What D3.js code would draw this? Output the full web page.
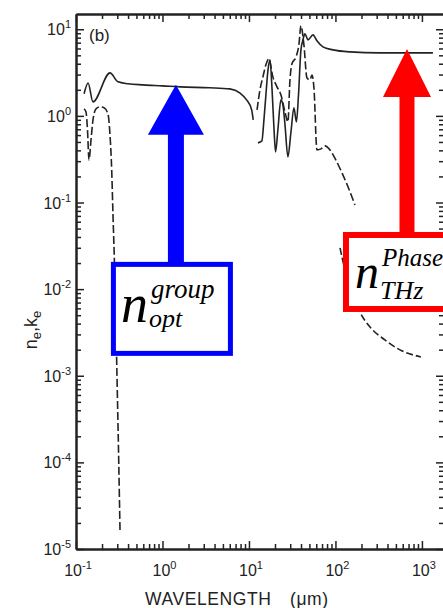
<!DOCTYPE html>
<html>
<head>
<meta charset="utf-8">
<script src="https://cdn.jsdelivr.net/npm/d3@7"></script>
<style>
  body { margin: 0; background: #fff; }
  svg { display: block; }
</style>
</head>
<body>
<svg id="chart" width="443" height="608"></svg>
<script>
// Extraordinary refractive index n_e (solid), UV through mid-IR
const nOptWavelength = [0.124, 0.138, 0.157, 0.247, 0.306, 0.40, 0.60, 1.0, 1.6, 3.5, 6.0, 7.9, 9.4, 10.75, 11.2];
const nOptValue      = [1.80, 2.40, 1.45, 3.14, 2.47, 2.35, 2.28, 2.22, 2.16, 2.11, 2.05, 1.83, 1.53, 1.17, 0.90];

// n_e across the phonon region and into the THz range
const nIrWavelength = [12.7, 14.1, 14.9, 15.7, 16.6, 17.5, 18.5, 19.5, 20.3, 21.6, 23.4, 24.7, 26.1, 28.2, 30.6, 33.1, 35.4, 37.4, 39.9, 42.1, 44.4, 48.1, 55.0, 61.1, 71.7, 93.6, 147, 327, 1340];
const nIrValue      = [0.488, 0.514, 0.899, 1.75, 3.40, 4.43, 2.00, 0.689, 0.384, 0.689, 1.53, 1.34, 0.787, 0.336, 0.653, 1.24, 0.852, 1.75, 5.78, 7.54, 8.85, 7.54, 8.61, 7.35, 6.26, 5.78, 5.48, 5.34, 5.34];

// Extinction coefficient k_e (dashed), UV absorption edge
const kUvWavelength = [0.124, 0.1305, 0.1358, 0.1413, 0.1491, 0.1572, 0.1703, 0.1894, 0.2107, 0.2344, 0.2472, 0.2587, 0.2677, 0.2787, 0.2901, 0.3018, 0.3126, 0.3227];
const kUvValue      = [1.205, 1.11, 0.689, 0.310, 0.528, 0.899, 1.205, 1.27, 1.24, 1.05, 0.603, 0.238, 0.0719, 0.01903, 0.00338, 5.26e-4, 9.33e-5, 1.66e-5];

// k_e in the phonon region
const kIrWavelength = [12.4, 13.4, 14.5, 15.7, 17.0, 18.9, 21.1, 23.4, 26.1, 28.2, 29.8, 31.4, 35.0, 37.8, 39.9, 43.2, 46.8, 50.7, 53.5, 56.4, 61.1, 68.0, 75.6, 86.4, 101, 119, 140, 168];
const kIrValue      = [1.17, 2.00, 2.82, 3.88, 4.55, 2.82, 2.16, 1.75, 1.11, 0.852, 2.60, 3.99, 4.80, 6.60, 10.95, 6.60, 2.75, 2.60, 2.97, 2.11, 0.405, 0.416, 0.450, 0.405, 0.310, 0.220, 0.151, 0.0938];

// k_e in the far-IR / THz range
const kThzWavelength = [113, 125, 155, 192, 251, 373, 557, 973];
const kThzValue      = [0.0299, 0.0190, 0.0098, 0.00546, 0.00366, 0.00259, 0.00199, 0.00165];

// Axis decades and their exponent labels
const xDecades   = [0.1, 1, 10, 100, 1000];
const xExponents = ["-1", "0", "1", "2", "3"];
const yDecades   = [1e1, 1e0, 1e-1, 1e-2, 1e-3, 1e-4, 1e-5];
const yExponents = ["1", "0", "-1", "-2", "-3", "-4", "-5"];

// Annotation arrows: wavelength (µm) and index value they point at
const arrowWavelength = [1.43, 672];
const arrowValue      = [2.28, 5.92];

const svg = d3.select("#chart");
const ink = "#222";

const x = d3.scaleLog().domain([0.1, 1800]).range([76, 444]);
const y = d3.scaleLog().domain([1e-5, 15]).range([549, 14]);

function minorTicks(lo, hi) {
  const out = [];
  for (let e = -6; e <= 4; e++) {
    for (let k = 1; k <= 9; k++) {
      const v = k * Math.pow(10, e);
      if (v >= lo * 0.999 && v <= hi * 1.001) out.push(+v.toPrecision(3));
    }
  }
  return out;
}
const xMinor = minorTicks(0.1, 1800).filter(v => !xDecades.some(d => Math.abs(d - v) / d < 1e-6));
const yMinor = minorTicks(1e-5, 15).filter(v => !yDecades.some(d => Math.abs(d - v) / d < 1e-6));

// Axes on all four sides, ticks pointing inward
function drawAxis(gen, translate) {
  const g = svg.append("g").attr("transform", translate).call(gen);
  g.selectAll("text").remove();
  g.selectAll("line").attr("stroke", ink).attr("stroke-width", 1.5);
  g.select(".domain").attr("stroke", ink).attr("stroke-width", 2);
  return g;
}
const fmt = () => "";
drawAxis(d3.axisBottom(x).tickValues(xDecades).tickSizeInner(-8).tickSizeOuter(0).tickFormat(fmt), "translate(0,549)");
drawAxis(d3.axisBottom(x).tickValues(xMinor).tickSizeInner(-5).tickSizeOuter(0).tickFormat(fmt), "translate(0,549)");
drawAxis(d3.axisTop(x).tickValues(xDecades).tickSizeInner(-8).tickSizeOuter(0).tickFormat(fmt), "translate(0,14)");
drawAxis(d3.axisTop(x).tickValues(xMinor).tickSizeInner(-5).tickSizeOuter(0).tickFormat(fmt), "translate(0,14)");
drawAxis(d3.axisLeft(y).tickValues(yDecades).tickSizeInner(-8).tickSizeOuter(0).tickFormat(fmt), "translate(76,0)");
drawAxis(d3.axisLeft(y).tickValues(yMinor).tickSizeInner(-5).tickSizeOuter(0).tickFormat(fmt), "translate(76,0)");
drawAxis(d3.axisRight(y).tickValues(yDecades).tickSizeInner(-8).tickSizeOuter(0).tickFormat(fmt), "translate(444,0)");
drawAxis(d3.axisRight(y).tickValues(yMinor).tickSizeInner(-5).tickSizeOuter(0).tickFormat(fmt), "translate(444,0)");

// Tick labels as powers of ten
const sans = "'Liberation Sans', 'DejaVu Sans', sans-serif";
yDecades.forEach((d, i) => {
  const t = svg.append("text")
    .attr("x", 71).attr("y", y(d) + 6)
    .attr("text-anchor", "end")
    .attr("font-family", sans).attr("font-size", 16).attr("fill", ink);
  t.append("tspan").text("10");
  t.append("tspan").attr("dy", -7).attr("font-size", 11).text(yExponents[i]);
});
xDecades.forEach((d, i) => {
  const t = svg.append("text")
    .attr("x", x(d) + 2).attr("y", 576)
    .attr("text-anchor", "middle")
    .attr("font-family", sans).attr("font-size", 16).attr("fill", ink);
  t.append("tspan").text("10");
  t.append("tspan").attr("dy", -7).attr("font-size", 11).text(xExponents[i]);
});

// Axis titles
svg.append("text").attr("x", 145).attr("y", 605)
  .attr("font-family", sans).attr("font-size", 17.5).attr("letter-spacing", 0.6)
  .attr("fill", ink).text("WAVELENGTH");
svg.append("text").attr("x", 290).attr("y", 605)
  .attr("font-family", sans).attr("font-size", 17.5).attr("letter-spacing", 0.6)
  .attr("fill", ink).text("(\u03bcm)");

const yTitle = svg.append("text")
  .attr("transform", "translate(37,330) rotate(-90)")
  .attr("text-anchor", "middle")
  .attr("font-family", sans).attr("font-size", 18).attr("fill", ink);
yTitle.append("tspan").text("n");
yTitle.append("tspan").attr("dy", 4).attr("font-size", 13).text("e");
yTitle.append("tspan").attr("dy", -4).text(",k");
yTitle.append("tspan").attr("dy", 4).attr("font-size", 13).text("e");

svg.append("text").attr("x", 89).attr("y", 41)
  .attr("font-family", sans).attr("font-size", 17).attr("fill", ink).text("(b)");

// Curves
const line = d3.line()
  .x(d => x(d[0]))
  .y(d => y(d[1]))
  .curve(d3.curveMonotoneX);
const zip = (a, b) => a.map((v, i) => [v, b[i]]);

function drawCurve(wl, val, dash) {
  svg.append("path")
    .datum(zip(wl, val))
    .attr("d", line)
    .attr("fill", "none")
    .attr("stroke", ink)
    .attr("stroke-width", 1.6)
    .attr("stroke-linejoin", "round")
    .attr("stroke-dasharray", dash || null);
}
drawCurve(nOptWavelength, nOptValue);
drawCurve(nIrWavelength, nIrValue);
drawCurve(kUvWavelength, kUvValue, "8,3");
drawCurve(kIrWavelength, kIrValue, "8,3");
drawCurve(kThzWavelength, kThzValue, "7,3");

// Annotation arrows with labelled boxes
function arrow(tipX, tipY, headLen, headHalf, shaftHalf, shaftEnd, color) {
  const p = d3.path();
  p.moveTo(tipX, tipY);
  p.lineTo(tipX + headHalf, tipY + headLen);
  p.lineTo(tipX + shaftHalf, tipY + headLen);
  p.lineTo(tipX + shaftHalf, shaftEnd);
  p.lineTo(tipX - shaftHalf, shaftEnd);
  p.lineTo(tipX - shaftHalf, tipY + headLen);
  p.lineTo(tipX - headHalf, tipY + headLen);
  p.closePath();
  svg.append("path").attr("d", p.toString()).attr("fill", color);
}
const serif = "'Liberation Serif', 'DejaVu Serif', serif";

// group index in the optical range
{
  const tx = x(arrowWavelength[0]), ty = y(arrowValue[0]);
  arrow(tx, ty, 50, 28, 8, ty + 180, "#0000ff");
  svg.append("rect")
    .attr("x", tx - 62.5).attr("y", ty + 179.5)
    .attr("width", 117).attr("height", 89)
    .attr("fill", "#fff").attr("stroke", "#0000ff").attr("stroke-width", 5);
  const g = svg.append("g").attr("font-family", serif).attr("font-style", "italic").attr("fill", "#000");
  g.append("text").attr("x", tx - 55).attr("y", ty + 237).attr("font-size", 54).text("n");
  g.append("text").attr("x", tx - 25).attr("y", ty + 213).attr("font-size", 27).text("group");
  g.append("text").attr("x", tx - 27).attr("y", ty + 242).attr("font-size", 26).text("opt");
}

// phase index in the THz range
{
  const tx = x(arrowWavelength[1]), ty = y(arrowValue[1]);
  arrow(tx, ty, 48, 24, 7.5, ty + 186, "#ff0000");
  svg.append("rect")
    .attr("x", tx - 61).attr("y", ty + 186)
    .attr("width", 160).attr("height", 74)
    .attr("fill", "#fff").attr("stroke", "#ff0000").attr("stroke-width", 6);
  const g = svg.append("g").attr("font-family", serif).attr("font-style", "italic").attr("fill", "#000");
  g.append("text").attr("x", tx - 52).attr("y", ty + 239).attr("font-size", 48).text("n");
  g.append("text").attr("x", tx - 25).attr("y", ty + 217).attr("font-size", 25).text("Phase");
  g.append("text").attr("x", tx - 27).attr("y", ty + 250).attr("font-size", 26).text("THz");
}
</script>
</body>
</html>
